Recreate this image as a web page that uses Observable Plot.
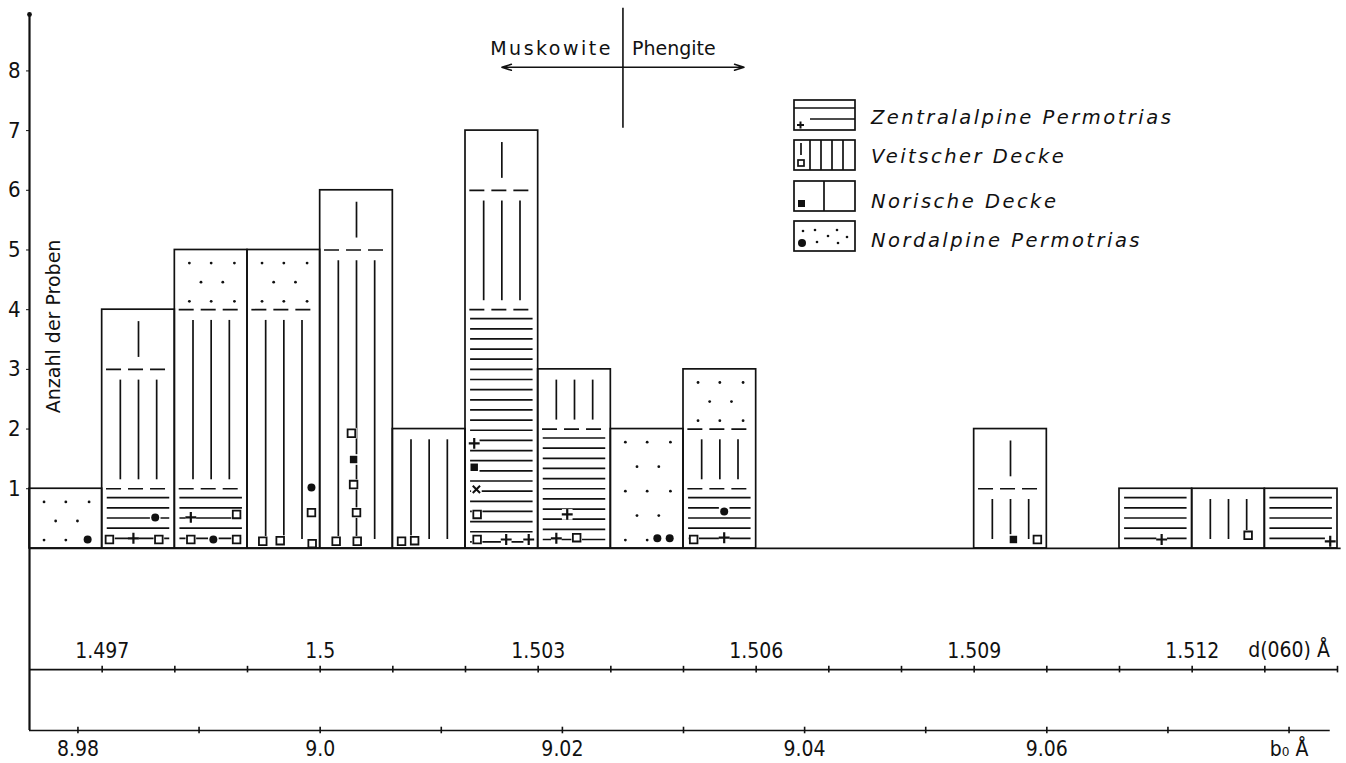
<!DOCTYPE html>
<html>
<head>
<meta charset="utf-8">
<script src="https://cdn.jsdelivr.net/npm/d3@7"></script>
<script src="https://cdn.jsdelivr.net/npm/@observablehq/plot@0.6"></script>
<style>
  html, body { margin: 0; padding: 0; background: #fff; }
  svg { display: block; }
</style>
</head>
<body>
<div id="chart"></div>
<script>
// ---------------- data ----------------
// left edges of the d(060) classes (Å), class width 0.001 Å
const binStart = [1.496, 1.497, 1.498, 1.499, 1.500, 1.501, 1.502, 1.503, 1.504,
                  1.505, 1.506, 1.507, 1.508, 1.509, 1.510, 1.511, 1.512, 1.513];
const binWidth = 0.001;
// sample counts per class, stacked from bottom in this order
const zentral    = [0, 1, 1, 0, 0, 0, 4, 2, 0, 1, 0, 0, 0, 0, 0, 1, 0, 1];
const veitscher  = [0, 2, 3, 4, 5, 2, 2, 1, 0, 1, 0, 0, 0, 1, 0, 0, 1, 0];
const norische   = [0, 1, 0, 0, 1, 0, 1, 0, 0, 0, 0, 0, 0, 1, 0, 0, 0, 0];
const nordalpine = [1, 0, 1, 1, 0, 0, 0, 0, 2, 1, 0, 0, 0, 0, 0, 0, 0, 0];
const categories = ["Zentralalpine Permotrias", "Veitscher Decke", "Norische Decke", "Nordalpine Permotrias"];

// individual sample symbols: d(060) value, height in the stack, symbol
const markerD = [1.4968, 1.4971, 1.49743, 1.49778, 1.49773, 1.49822, 1.49885, 1.49822, 1.49853, 1.49885,
                 1.49921, 1.49945, 1.49988, 1.49988, 1.49989, 1.50022, 1.50051, 1.50043, 1.50046, 1.50046,
                 1.5005, 1.50112, 1.5013, 1.50212, 1.50212, 1.50215, 1.50216, 1.50216, 1.50256, 1.50287,
                 1.5034, 1.50325, 1.50353, 1.50464, 1.50481, 1.50514, 1.50556, 1.50556, 1.50954, 1.50987,
                 1.51158, 1.51277, 1.5139];
const markerN = [0.15, 0.15, 0.17, 0.15, 0.52, 0.52, 0.57, 0.15, 0.15, 0.15,
                 0.12, 0.13, 1.02, 0.6, 0.08, 0.12, 0.12, 1.93, 1.49, 1.07,
                 0.6, 0.12, 0.13, 1.76, 1.36, 0.99, 0.57, 0.15, 0.15, 0.15,
                 0.57, 0.17, 0.18, 0.17, 0.17, 0.15, 0.18, 0.62, 0.15, 0.15,
                 0.15, 0.22, 0.12];
const markerType = ["circle", "square", "plus", "square", "circle", "plus", "square", "square", "circle", "square",
                    "square", "square", "circle", "square", "square", "square", "square", "square", "fsquare", "square",
                    "square", "square", "square", "plus", "fsquare", "times", "square", "square", "plus", "plus",
                    "plus", "plus", "square", "circle", "circle", "square", "plus", "circle", "fsquare", "square",
                    "plus", "square", "plus"];

// axes
const yTicks = [1, 2, 3, 4, 5, 6, 7, 8];
const dTicks = [1.497, 1.498, 1.499, 1.500, 1.501, 1.502, 1.503, 1.504, 1.505, 1.506,
                1.507, 1.508, 1.509, 1.510, 1.511, 1.512, 1.513, 1.514];
const dLabelValues = [1.497, 1.500, 1.503, 1.506, 1.509, 1.512];
const dLabels = ["1.497", "1.5", "1.503", "1.506", "1.509", "1.512"];
const b0Ticks = [8.98, 8.99, 9.00, 9.01, 9.02, 9.03, 9.04, 9.05, 9.06, 9.07, 9.08];
const b0LabelValues = [8.98, 9.00, 9.02, 9.04, 9.06];
const b0Labels = ["8.98", "9.0", "9.02", "9.04", "9.06"];
const dUnitLabel = "d(060) Å";
const b0UnitLabel = "b\u2080 Å";
const b0UnitAt = 9.08;
const yTitle = "Anzahl der Proben";
// Muscovite / phengite boundary, in b0 (Å)
const boundaryB0 = 9.025;
const arrowHalfSpan = 0.01;

// ---------------- layout constants ----------------
const W = 1346, H = 763;
const yMax = 8.945;          // top of the count axis
const dAxisLevel = -2.03;    // level of the d(060) scale line (count units below baseline)
const bAxisLevel = -3.05;    // level of the b0 scale line
const ink = "#111";
const numFont = "'Liberation Sans Narrow', 'DejaVu Sans Condensed', Roboto, 'Liberation Sans', sans-serif";
const textFont = "'DejaVu Sans', Verdana, sans-serif";

// ---------------- derived geometry (from data) ----------------
const counts = [zentral, veitscher, norische, nordalpine];
const keys = ["Z", "V", "No", "Nd"];
const segments = [];
binStart.forEach((x0, i) => {
  let y = 0;
  counts.forEach((arr, c) => {
    if (arr[i] > 0) {
      segments.push({x0, x1: x0 + binWidth, y0: y, y1: y + arr[i], cat: keys[c]});
      y += arr[i];
    }
  });
});
const totals = binStart
  .map((x0, i) => ({x0, x1: x0 + binWidth, total: counts.reduce((s, a) => s + a[i], 0)}))
  .filter(d => d.total > 0);

const bw = binWidth;
const zLines = [], vLines = [], noLines = [], ndDots = [], seps = [];
for (const s of segments) {
  if (s.y0 > 0) seps.push({y: s.y0, x1: s.x0 + 0.06 * bw, x2: s.x1 - 0.05 * bw});
  if (s.cat === "Z") {
    for (let l = s.y1 - 0.15; l >= s.y0 + 0.1; l -= 0.17)
      zLines.push({y: l, x1: s.x0 + 0.07 * bw, x2: s.x1 - 0.07 * bw});
  } else if (s.cat === "V") {
    for (const f of [0.25, 0.5, 0.75])
      vLines.push({x: s.x0 + f * bw, y1: s.y0 + 0.15, y2: s.y1 - 0.18});
  } else if (s.cat === "No") {
    noLines.push({x: s.x0 + 0.5 * bw, y1: s.y0 + 0.2, y2: s.y1 - 0.2});
  } else if (s.cat === "Nd") {
    const h = s.y1 - s.y0, rows = 2 * h + 1, step = (h - 0.36) / (rows - 1);
    for (let r = 0; r < rows; r++) {
      const lvl = s.y1 - 0.22 - r * step;
      const fr = r % 2 === 0 ? [0.2, 0.5, 0.82] : [0.36, 0.66];
      for (const f of fr) ndDots.push({x: s.x0 + f * bw, y: lvl});
    }
  }
}
const markers = markerD.map((d, i) => ({d, n: markerN[i], t: markerType[i]}));
const ofType = t => markers.filter(m => m.t === t);

const xLeft = binStart[0];
const xRight = binStart[binStart.length - 1] + binWidth;

// ---------------- chart ----------------
const plot = Plot.plot({
  width: W,
  height: H,
  marginLeft: 29,
  marginRight: 9,
  marginTop: 14,
  marginBottom: 33,
  x: {domain: [xLeft, xRight], axis: null},
  y: {domain: [bAxisLevel, yMax], axis: null},
  style: {fontFamily: numFont, fontSize: "21px", color: ink, background: "#fff"},
  marks: [
    // hatching
    Plot.ruleY(zLines, {y: "y", x1: "x1", x2: "x2", stroke: ink, strokeWidth: 1.7}),
    Plot.ruleX(vLines, {x: "x", y1: "y1", y2: "y2", stroke: ink, strokeWidth: 1.7}),
    Plot.ruleX(noLines, {x: "x", y1: "y1", y2: "y2", stroke: ink, strokeWidth: 1.7}),
    Plot.dot(ndDots, {x: "x", y: "y", r: 1.4, fill: ink, stroke: "none"}),
    Plot.ruleY(seps, {y: "y", x1: "x1", x2: "x2", stroke: ink, strokeWidth: 1.7, strokeDasharray: "15,7"}),
    // sample symbols
    Plot.dot(markers, {x: "d", y: "n", symbol: "square", r: 6, fill: "#fff", stroke: "none"}),
    Plot.dot(ofType("square"), {x: "d", y: "n", symbol: "square", r: 4.3, fill: "#fff", stroke: ink, strokeWidth: 1.8}),
    Plot.dot(ofType("fsquare"), {x: "d", y: "n", symbol: "square", r: 4.2, fill: ink, stroke: "none"}),
    Plot.dot(ofType("circle"), {x: "d", y: "n", symbol: "circle", r: 4, fill: ink, stroke: "none"}),
    Plot.dot(ofType("plus"), {x: "d", y: "n", symbol: "plus", r: 3.6, fill: "none", stroke: ink, strokeWidth: 2.2}),
    Plot.dot(ofType("times"), {x: "d", y: "n", symbol: "times", r: 3.4, fill: "none", stroke: ink, strokeWidth: 2}),
    // bar outlines
    Plot.rect(totals, {x1: "x0", x2: "x1", y1: 0, y2: "total", fill: "none", stroke: ink, strokeWidth: 1.7}),
    // count axis
    Plot.ruleX([xLeft], {y1: bAxisLevel, y2: yMax, stroke: ink, strokeWidth: 2.2}),
    Plot.dot([xLeft], {x: d => d, y: yMax, r: 2.4, fill: ink}),
    Plot.axisY(yTicks, {anchor: "left", tickSize: 3, tickPadding: 6, fontSize: 22, fontFamily: numFont,
                        tickFormat: d => String(d), label: null, stroke: ink, fill: ink}),
    Plot.text([yTitle], {x: xLeft, y: 3.72, dx: 24, rotate: -90, fontFamily: textFont, fontSize: 19, fill: ink, textAnchor: "middle", lineAnchor: "middle"}),
    // baseline
    Plot.ruleY([0], {x1: xLeft, x2: xRight + 0.00005, stroke: ink, strokeWidth: 1.8}),
    // d(060) scale
    Plot.ruleY([dAxisLevel], {x1: xLeft, x2: xRight, stroke: ink, strokeWidth: 1.6}),
    Plot.ruleX(dTicks, {x: d => d, y1: dAxisLevel - 0.055, y2: dAxisLevel + 0.055, stroke: ink, strokeWidth: 1.6}),
    Plot.text(dLabelValues, {x: d => d, y: dAxisLevel, text: (d, i) => dLabels[i], dy: -18, fontSize: 21, fill: ink, textAnchor: "middle", lineAnchor: "middle"}),
    Plot.text([dUnitLabel], {x: b0UnitAt / 6, y: dAxisLevel, dy: -19, fontSize: 21, fill: ink, textAnchor: "middle", lineAnchor: "middle"}),
    // b0 scale
    Plot.ruleY([bAxisLevel], {x1: xLeft, x2: xRight - 0.0001, stroke: ink, strokeWidth: 1.6}),
    Plot.ruleX(b0Ticks, {x: b => b / 6, y1: bAxisLevel - 0.055, y2: bAxisLevel + 0.055, stroke: ink, strokeWidth: 1.6}),
    Plot.text(b0LabelValues, {x: b => b / 6, y: bAxisLevel, text: (d, i) => b0Labels[i], dy: 19, fontSize: 21, fill: ink, textAnchor: "middle", lineAnchor: "middle"}),
    Plot.text([b0UnitLabel], {x: b0UnitAt / 6, y: bAxisLevel, dy: 19, fontSize: 21, fill: ink, textAnchor: "middle", lineAnchor: "middle"}),
    // Muskowite | Phengite boundary
    Plot.ruleX([boundaryB0 / 6], {x: d => d, y1: 7.04, y2: 9.05, stroke: ink, strokeWidth: 1.6}),
    Plot.arrow([-1, 1], {x1: boundaryB0 / 6, x2: s => (boundaryB0 + s * arrowHalfSpan) / 6, y1: 8.06, y2: 8.06,
                         stroke: ink, strokeWidth: 1.5, headLength: 10, headAngle: 35}),
    Plot.text(["Muskowite"], {x: boundaryB0 / 6, y: 8.26, dx: -10, textAnchor: "end", lineAnchor: "bottom",
                              fontFamily: textFont, fontSize: 19, fill: ink}),
    Plot.text(["Phengite"], {x: boundaryB0 / 6, y: 8.26, dx: 9, textAnchor: "start", lineAnchor: "bottom",
                             fontFamily: textFont, fontSize: 19, fill: ink})
  ]
});

// ---------------- post-styling and legend (pattern key) ----------------
const svg = d3.select(plot);
svg.selectAll("text").filter(function () { return this.textContent === "Muskowite"; })
  .attr("letter-spacing", "2.5px");

const lg = svg.append("g").attr("stroke", ink).attr("fill", "none").attr("stroke-width", 1.7);
const bx = 794, bwid = 61, bh = 30;
const tops = [100, 140, 181, 221];
tops.forEach(t => lg.append("rect").attr("x", bx).attr("y", t).attr("width", bwid).attr("height", bh));
// Zentralalpine: horizontal lines, +
lg.append("line").attr("x1", bx).attr("x2", bx + bwid).attr("y1", tops[0] + 8).attr("y2", tops[0] + 8);
lg.append("line").attr("x1", bx + 16).attr("x2", bx + bwid).attr("y1", tops[0] + 19).attr("y2", tops[0] + 19);
lg.append("path").attr("d", `M${bx + 3},${tops[0] + 25}h7M${bx + 6.5},${tops[0] + 21.5}v7`).attr("stroke-width", 2);
// Veitscher: vertical lines, open square
[16, 27, 38, 49].forEach(o => lg.append("line").attr("x1", bx + o).attr("x2", bx + o).attr("y1", tops[1]).attr("y2", tops[1] + bh));
lg.append("line").attr("x1", bx + 7).attr("x2", bx + 7).attr("y1", tops[1] + 3).attr("y2", tops[1] + 15);
lg.append("rect").attr("x", bx + 4).attr("y", tops[1] + 20).attr("width", 6).attr("height", 6).attr("fill", "#fff");
// Norische: one divider, filled square
lg.append("line").attr("x1", bx + 30).attr("x2", bx + 30).attr("y1", tops[2]).attr("y2", tops[2] + bh);
lg.append("rect").attr("x", bx + 4).attr("y", tops[2] + 19).attr("width", 7).attr("height", 7).attr("fill", ink).attr("stroke", "none");
// Nordalpine: dots, filled circle
[[9, 10], [21, 9], [43, 9], [34, 15], [53, 16], [23, 21], [44, 22]].forEach(([dx, dy]) =>
  lg.append("circle").attr("cx", bx + dx).attr("cy", tops[3] + dy).attr("r", 1.3).attr("fill", ink).attr("stroke", "none"));
lg.append("circle").attr("cx", bx + 8).attr("cy", tops[3] + 22).attr("r", 4).attr("fill", ink).attr("stroke", "none");
// labels
const lt = svg.append("g").attr("font-family", textFont).attr("font-style", "italic")
  .attr("font-size", 19.5).attr("fill", ink).attr("letter-spacing", "2.5px").attr("text-anchor", "start");
const labelBaselines = [124, 163, 208, 247];
categories.forEach((c, i) => lt.append("text").attr("x", 871).attr("y", labelBaselines[i]).attr("text-anchor", "start").text(c));

document.getElementById("chart").appendChild(plot);
</script>
</body>
</html>
